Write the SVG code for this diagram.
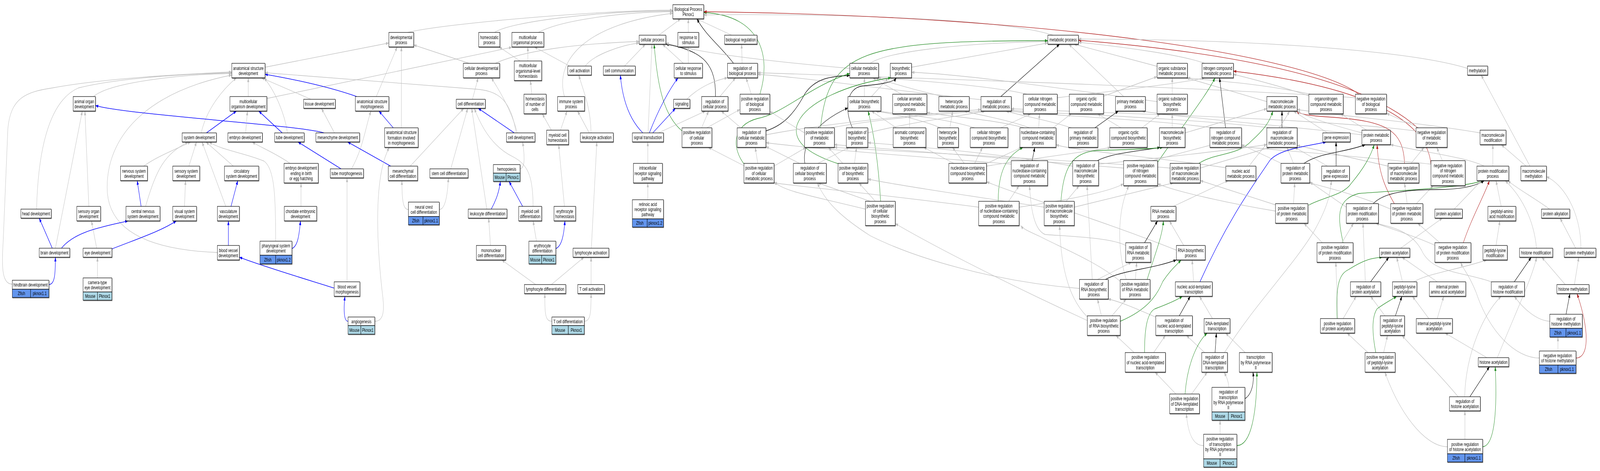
<svg xmlns="http://www.w3.org/2000/svg" width="6123" height="1205" viewBox="0 0 6123 1205" preserveAspectRatio="none" style="width:100vw;height:100vh;display:block">
<style>
.n rect{fill:#fff;stroke:#000;stroke-width:1.2}
.n .z{fill:#6495ed}
.n .m{fill:#add8e6}
.n{filter:url(#ds)}
text{font-family:"Liberation Sans",Arial,sans-serif;font-size:13px;text-anchor:middle;dominant-baseline:central;fill:#000}
.e path{fill:none;stroke-width:1.3}
.e .g{stroke:#c0c0c0;marker-end:url(#ag)}
.e .b{stroke:#0000ff;stroke-width:1.5;marker-end:url(#ab)}
.e .k{stroke:#000;marker-end:url(#ak)}
.e .p{stroke:#228b22;marker-end:url(#ap)}
.e .r{stroke:#b22222;marker-end:url(#ar)}
</style>
<defs>
<filter id="ds" x="-5%" y="-5%" width="115%" height="130%"><feDropShadow dx="1.2" dy="1.5" stdDeviation="0.3" flood-color="#000" flood-opacity="0.55"/></filter>
<marker id="ag" markerWidth="11" markerHeight="8" viewBox="0 0 11 8" refX="11" refY="4" orient="auto" markerUnits="userSpaceOnUse"><path d="M0,0 L11,4 L0,8 z" fill="#c0c0c0"/></marker>
<marker id="ab" markerWidth="11" markerHeight="8" viewBox="0 0 11 8" refX="11" refY="4" orient="auto" markerUnits="userSpaceOnUse"><path d="M0,0 L11,4 L0,8 z" fill="#0000ff"/></marker>
<marker id="ak" markerWidth="11" markerHeight="8" viewBox="0 0 11 8" refX="11" refY="4" orient="auto" markerUnits="userSpaceOnUse"><path d="M0,0 L11,4 L0,8 z" fill="#000"/></marker>
<marker id="ap" markerWidth="11" markerHeight="8" viewBox="0 0 11 8" refX="11" refY="4" orient="auto" markerUnits="userSpaceOnUse"><path d="M0,0 L11,4 L0,8 z" fill="#228b22"/></marker>
<marker id="ar" markerWidth="11" markerHeight="8" viewBox="0 0 11 8" refX="11" refY="4" orient="auto" markerUnits="userSpaceOnUse"><path d="M0,0 L11,4 L0,8 z" fill="#b22222"/></marker>
</defs>
<rect x="0" y="0" width="6123" height="1205" fill="#fff"/>
<g id="edges" class="e">
<path class="g" d="M1560 83 C1700 60 2300 26 2575 26"/>
<path class="g" d="M1893 83 C1950 55 2300 28 2575 28"/>
<path class="g" d="M2060 83 C2150 50 2400 30 2575 30"/>
<path class="g" d="M2160 247 C2120 150 2250 60 2575 34"/>
<path class="g" d="M2521 90 L2605 48"/>
<path class="g" d="M2634 83 L2634 48"/>
<path class="g" d="M2800 90 L2665 48"/>
<path class="k" d="M2807 162 C2760 120 2700 90 2667 48"/>
<path class="p" d="M2908 241 C2950 150 2920 40 2693 32"/>
<path class="g" d="M4030 90 C3800 40 3000 35 2693 38"/>
<path class="r" d="M5200 241 C5000 140 4000 40 2693 30"/>
<path class="g" d="M1014 172 L1488 110"/>
<path class="g" d="M1440 247 L1520 120"/>
<path class="g" d="M1536 327 L1536 120"/>
<path class="g" d="M1795 162 L1583 115"/>
<path class="g" d="M1990 156 L1910 120"/>
<path class="g" d="M1021 252 L1959 121"/>
<path class="g" d="M2020 156 L2020 120"/>
<path class="g" d="M2180 169 L2045 120"/>
<path class="g" d="M1895 162 C2000 130 2200 112 2446 106"/>
<path class="g" d="M2240 169 C2270 140 2380 115 2446 110"/>
<path class="g" d="M2390 169 L2470 113"/>
<path class="g" d="M2480 340 L2495 113"/>
<path class="g" d="M2615 162 L2535 113"/>
<path class="k" d="M2738 247 C2740 170 2700 130 2548 113"/>
<path class="p" d="M2610 335 C2530 290 2515 200 2503 113"/>
<path class="g" d="M3252 175 C3000 160 2700 140 2548 110"/>
<path class="g" d="M2634 162 L2634 120"/>
<path class="g" d="M2840 162 L2838 113"/>
<path class="g" d="M3330 162 C3400 130 3700 110 4010 106"/>
<path class="g" d="M3488 172 L4010 110"/>
<path class="p" d="M3140 327 C3170 130 3300 104 4010 104"/>
<path class="k" d="M3830 247 L4055 113"/>
<path class="g" d="M4430 170 L4110 113"/>
<path class="g" d="M4300 247 L4090 113"/>
<path class="g" d="M4610 162 C4520 140 4300 120 4127 108"/>
<path class="r" d="M5430 330 C5300 250 5000 150 4127 103"/>
<path class="g" d="M5616 175 C5400 130 4800 100 4127 100"/>
<path class="g" d="M47 727 C10 727 5 690 12 620 L30 330 C40 250 100 235 200 225 C400 200 700 190 887 184"/>
<path class="g" d="M140 535 C145 400 180 260 300 225 C450 200 700 190 887 186"/>
<path class="g" d="M358 247 C420 210 700 190 887 188"/>
<path class="g" d="M832 646 C600 640 410 600 410 480 C410 330 600 230 887 192"/>
<path class="g" d="M770 340 C790 280 850 230 905 199"/>
<path class="g" d="M950 247 L950 199"/>
<path class="g" d="M1190 254 L1000 199"/>
<path class="g" d="M1100 340 C1090 290 1050 230 1010 199"/>
<path class="b" d="M1365 247 C1250 220 1100 200 1014 190"/>
<path class="g" d="M1975 340 C1955 250 1900 232 1820 228 C1500 210 1200 195 1014 186"/>
<path class="g" d="M1808 254 L1830 199"/>
<path class="g" d="M1980 340 C1960 290 1920 240 1880 199"/>
<path class="g" d="M2035 241 L2030 206"/>
<path class="g" d="M2262 340 C2260 270 2230 230 2215 192"/>
<path class="b" d="M2460 340 C2400 300 2380 240 2374 192"/>
<path class="b" d="M2485 340 C2520 280 2560 230 2595 199"/>
<path class="g" d="M2755 247 L2815 199"/>
<path class="g" d="M2875 241 L2855 199"/>
<path class="g" d="M2628 254 C2680 220 2740 205 2784 199"/>
<path class="g" d="M3754 255 C3400 230 3100 200 2899 190"/>
<path class="g" d="M5187 250 C4500 220 3500 200 2899 186"/>
<path class="g" d="M3308 247 L3308 199"/>
<path class="g" d="M3450 241 L3340 199"/>
<path class="g" d="M3610 247 C3500 230 3400 210 3350 199"/>
<path class="g" d="M3930 241 C3800 220 3500 205 3360 199"/>
<path class="k" d="M2931 335 C3000 320 3040 290 3080 240 C3120 200 3180 195 3252 193"/>
<path class="p" d="M2850 422 C2800 380 2800 320 2900 303 C3000 290 3100 220 3252 188"/>
<path class="g" d="M3335 247 L3400 199"/>
<path class="g" d="M4428 260 C4100 230 3700 190 3488 185"/>
<path class="p" d="M3213 420 C3120 400 3030 370 3050 320 C3080 260 3250 215 3410 199"/>
<path class="k" d="M3262 327 C3230 280 3240 225 3300 220 C3380 215 3420 210 3430 199"/>
<path class="g" d="M4223 246 L4428 196"/>
<path class="g" d="M4486 241 L4486 199"/>
<path class="g" d="M4848 260 L4540 199"/>
<path class="g" d="M5015 241 C4800 210 4600 205 4544 199"/>
<path class="g" d="M4046 250 C4300 230 4550 210 4610 199"/>
<path class="p" d="M4430 415 C4550 300 4620 240 4650 199"/>
<path class="k" d="M4690 327 L4667 199"/>
<path class="g" d="M5009 245 C4900 220 4780 200 4720 190"/>
<path class="r" d="M5476 420 C5460 300 5200 220 4720 182"/>
<path class="g" d="M5855 425 L5668 192"/>
<path class="g" d="M340 528 L325 284"/>
<path class="g" d="M212 635 L315 284"/>
<path class="b" d="M1240 340 C1150 320 500 295 365 270"/>
<path class="b" d="M790 340 L905 284"/>
<path class="g" d="M940 340 L947 284"/>
<path class="b" d="M1080 340 L990 284"/>
<path class="g" d="M1280 340 L1230 277"/>
<path class="g" d="M1345 432 C1390 380 1400 320 1420 284"/>
<path class="b" d="M1505 327 L1450 284"/>
<path class="g" d="M1570 425 L1775 277"/>
<path class="g" d="M1725 432 L1790 277"/>
<path class="g" d="M1863 535 L1805 277"/>
<path class="g" d="M2040 528 C2040 450 2020 420 1960 400 C1900 380 1850 340 1815 277"/>
<path class="b" d="M1968 340 L1830 277"/>
<path class="g" d="M2110 333 L2075 291"/>
<path class="g" d="M2145 333 L2170 284"/>
<path class="g" d="M2255 340 L2210 284"/>
<path class="b" d="M2498 340 L2585 277"/>
<path class="g" d="M2520 340 L2700 284"/>
<path class="g" d="M2685 327 L2712 284"/>
<path class="g" d="M2835 327 L2760 284"/>
<path class="g" d="M2705 327 L2832 280"/>
<path class="g" d="M3079 340 C3030 320 2980 300 2946 285"/>
<path class="g" d="M3430 327 L3335 284"/>
<path class="g" d="M3600 327 C3500 300 3400 290 3350 284"/>
<path class="g" d="M3730 327 C3600 300 3420 290 3355 284"/>
<path class="k" d="M3080 418 C3070 380 3100 320 3245 276"/>
<path class="p" d="M3370 515 C3360 400 3340 330 3322 284"/>
<path class="g" d="M3481 327 L3481 291"/>
<path class="g" d="M3920 327 C3800 305 3650 300 3547 288"/>
<path class="g" d="M3635 327 L3646 284"/>
<path class="g" d="M3940 327 C3850 305 3750 295 3690 284"/>
<path class="g" d="M2931 345 C3200 310 3600 290 3754 280"/>
<path class="g" d="M3180 327 C3400 300 3650 290 3765 284"/>
<path class="g" d="M3321 340 C3500 310 3700 295 3770 284"/>
<path class="g" d="M4100 327 C4000 305 3900 295 3850 284"/>
<path class="g" d="M4640 327 C4400 305 4000 295 3860 284"/>
<path class="g" d="M4860 327 C4500 300 4000 290 3866 282"/>
<path class="g" d="M5419 335 C5000 300 4200 290 3870 278"/>
<path class="g" d="M3830 327 L3945 291"/>
<path class="g" d="M3975 327 L3978 291"/>
<path class="g" d="M4290 327 L4200 291"/>
<path class="g" d="M4030 327 L4100 291"/>
<path class="k" d="M4190 327 L4280 284"/>
<path class="g" d="M5212 345 C4900 320 4500 300 4370 284"/>
<path class="g" d="M4370 327 L4440 291"/>
<path class="g" d="M4486 327 L4486 291"/>
<path class="g" d="M4535 340 L4848 278"/>
<path class="k" d="M4906 327 L4906 284"/>
<path class="p" d="M4588 418 C4650 390 4735 400 4790 360 C4840 330 4860 310 4871 284"/>
<path class="r" d="M5375 418 C5370 330 5300 310 5100 300 C5000 296 4975 292 4962 284"/>
<path class="g" d="M5080 340 L4950 284"/>
<path class="g" d="M4780 425 C4830 380 4900 330 4935 284"/>
<path class="g" d="M5212 340 C5100 320 5000 300 4964 284"/>
<path class="g" d="M5664 340 C5400 310 5100 295 4964 280"/>
<path class="g" d="M5230 333 L5130 291"/>
<path class="g" d="M5430 327 L5306 290"/>
<path class="g" d="M550 425 C600 400 680 380 730 363"/>
<path class="g" d="M557 528 C600 430 630 395 720 363"/>
<path class="g" d="M723 425 L752 363"/>
<path class="g" d="M864 528 L773 363"/>
<path class="g" d="M893 425 L788 363"/>
<path class="g" d="M1055 617 C1055 500 1050 430 1010 412 C930 390 850 385 800 363"/>
<path class="g" d="M1110 418 C1050 390 990 375 965 363"/>
<path class="b" d="M1305 432 L1140 363"/>
<path class="b" d="M1495 425 L1330 363"/>
<path class="g" d="M1434 822 C1465 822 1472 800 1465 760 C1440 620 1430 450 1490 377"/>
<path class="g" d="M1990 432 C2010 430 2008 400 2000 363"/>
<path class="g" d="M2160 528 L2138 370"/>
<path class="g" d="M2263 635 L2284 363"/>
<path class="g" d="M2479 418 L2479 363"/>
<path class="g" d="M2850 425 L2710 377"/>
<path class="g" d="M2900 418 L2890 377"/>
<path class="g" d="M3060 418 L2931 375"/>
<path class="g" d="M3870 420 C3500 400 3100 380 2931 365"/>
<path class="g" d="M2962 425 L3085 377"/>
<path class="g" d="M3225 418 L3170 377"/>
<path class="g" d="M4300 430 C3800 400 3400 380 3193 370"/>
<path class="g" d="M4478 430 C4000 405 3500 390 3193 377"/>
<path class="g" d="M3130 418 L3250 377"/>
<path class="g" d="M3270 418 L3278 377"/>
<path class="g" d="M4105 425 C3800 390 3500 375 3321 365"/>
<path class="g" d="M3650 418 L3535 377"/>
<path class="g" d="M3690 418 L3645 377"/>
<path class="g" d="M3730 418 L3760 377"/>
<path class="g" d="M3770 420 L3910 377"/>
<path class="k" d="M3950 411 L3960 377"/>
<path class="p" d="M3820 515 C3820 440 3850 400 3915 377"/>
<path class="g" d="M4700 430 C4400 400 4100 385 4041 370"/>
<path class="g" d="M3775 425 C4000 400 4200 385 4250 377"/>
<path class="k" d="M4200 411 C4260 390 4380 385 4440 377"/>
<path class="p" d="M4060 515 C4070 430 4100 390 4200 385 C4350 382 4420 380 4450 377"/>
<path class="g" d="M4410 411 L4640 370"/>
<path class="g" d="M4910 420 L4751 370"/>
<path class="g" d="M5476 420 C5200 400 4900 385 4751 375"/>
<path class="g" d="M4204 420 C4500 400 4750 380 4848 370"/>
<path class="g" d="M4593 430 L4860 377"/>
<path class="g" d="M4950 418 L4925 377"/>
<path class="g" d="M5080 425 L4955 377"/>
<path class="g" d="M5312 425 L4964 372"/>
<path class="k" d="M5113 425 L5113 363"/>
<path class="b" d="M4592 721 C4700 560 4800 470 4860 410 C4900 380 5000 375 5075 363"/>
<path class="k" d="M4990 418 C5050 390 5150 390 5225 370"/>
<path class="p" d="M5008 525 C5060 505 5140 500 5170 470 C5220 430 5245 400 5259 370"/>
<path class="r" d="M5336 521 C5300 480 5275 440 5270 370"/>
<path class="g" d="M5680 425 C5600 400 5450 390 5321 370"/>
<path class="g" d="M5400 418 L5450 377"/>
<path class="g" d="M5520 411 L5498 377"/>
<path class="g" d="M5713 425 L5713 370"/>
<path class="g" d="M5840 425 L5745 370"/>
<path class="b" d="M540 528 L525 462"/>
<path class="g" d="M706 528 L710 462"/>
<path class="b" d="M884 528 L910 462"/>
<path class="g" d="M1152 528 L1152 468"/>
<path class="g" d="M1328 721 L1328 455"/>
<path class="g" d="M1563 536 C1545 536 1538 520 1538 462"/>
<path class="g" d="M1681 536 C1700 536 1712 510 1716 455"/>
<path class="b" d="M1880 535 C1900 510 1910 490 1915 464"/>
<path class="b" d="M2000 528 L1948 464"/>
<path class="g" d="M2479 511 L2479 468"/>
<path class="g" d="M3312 535 C3100 500 3000 490 2962 465"/>
<path class="g" d="M3745 530 C3400 500 3100 480 2962 468"/>
<path class="g" d="M3330 515 L3130 468"/>
<path class="g" d="M4131 738 C3800 720 3500 660 3330 603 C3230 560 3160 520 3128 468"/>
<path class="g" d="M3350 515 L3287 468"/>
<path class="g" d="M3996 530 C3700 500 3400 470 3321 458"/>
<path class="g" d="M4502 640 C4200 560 3900 500 3775 465"/>
<path class="g" d="M3860 515 L3900 475"/>
<path class="g" d="M4308 628 C4250 608 4100 605 4000 600 C3960 590 3945 540 3940 475"/>
<path class="g" d="M4080 515 L4130 475"/>
<path class="g" d="M4180 715 L4160 475"/>
<path class="g" d="M3900 530 C4100 510 4250 490 4300 470"/>
<path class="g" d="M4881 540 C4700 520 4500 490 4430 470"/>
<path class="g" d="M4111 530 C4300 500 4420 480 4490 468"/>
<path class="g" d="M4885 525 L4593 462"/>
<path class="g" d="M4310 715 C4280 650 4270 550 4320 475"/>
<path class="g" d="M4490 528 L4700 462"/>
<path class="g" d="M4950 521 L4955 468"/>
<path class="g" d="M5152 530 L5012 465"/>
<path class="g" d="M5322 535 C5200 500 5080 480 5012 468"/>
<path class="g" d="M4686 902 C4800 780 4950 680 5030 590 C5080 530 5090 500 5095 462"/>
<path class="g" d="M5385 521 L5375 468"/>
<path class="g" d="M5420 521 L5485 475"/>
<path class="p" d="M5140 621 C5120 560 5110 510 5200 495 C5400 485 5600 480 5676 462"/>
<path class="r" d="M5600 621 C5630 560 5680 500 5700 462"/>
<path class="k" d="M5255 521 C5300 490 5400 485 5500 485 C5600 485 5650 475 5680 462"/>
<path class="g" d="M5745 528 L5725 462"/>
<path class="g" d="M5880 635 C5870 560 5820 500 5760 462"/>
<path class="g" d="M5930 535 C5880 510 5800 480 5770 462"/>
<path class="g" d="M5565 535 L5670 462"/>
<path class="g" d="M6050 635 C6050 540 5980 470 5918 452"/>
<path class="b" d="M200 635 L150 558"/>
<path class="g" d="M370 635 L350 565"/>
<path class="b" d="M235 635 C290 590 400 580 490 565"/>
<path class="b" d="M428 637 C530 610 620 590 675 565"/>
<path class="b" d="M874 628 L874 565"/>
<path class="b" d="M1117 636 C1140 630 1145 600 1150 565"/>
<path class="g" d="M1877 628 L1870 558"/>
<path class="g" d="M2053 617 L2040 565"/>
<path class="b" d="M2127 636 C2150 630 2158 600 2162 565"/>
<path class="g" d="M4161 820 C3900 740 3600 640 3426 572"/>
<path class="g" d="M4287 720 C4200 670 4050 630 3980 605 C3930 590 3915 585 3906 577"/>
<path class="g" d="M4160 810 C4100 770 4060 700 4055 577"/>
<path class="k" d="M4380 621 L4430 565"/>
<path class="p" d="M4390 715 C4420 650 4450 600 4452 565"/>
<path class="g" d="M4530 628 L4475 565"/>
<path class="g" d="M5060 621 L4990 571"/>
<path class="g" d="M5135 621 L5180 571"/>
<path class="g" d="M5225 721 L5216 571"/>
<path class="g" d="M5500 630 C5400 600 5300 580 5265 571"/>
<path class="g" d="M5707 721 C5600 695 5480 700 5440 640 C5400 590 5320 580 5266 571"/>
<path class="g" d="M5510 621 L5425 571"/>
<path class="g" d="M5360 635 L5520 558"/>
<path class="g" d="M5725 628 L5740 565"/>
<path class="g" d="M6030 635 L5970 558"/>
<path class="b" d="M187 728 C210 728 212 700 212 658"/>
<path class="g" d="M373 711 L373 658"/>
<path class="b" d="M1279 737 C1150 710 1000 680 916 658"/>
<path class="g" d="M2050 728 L1920 665"/>
<path class="g" d="M2110 728 L2235 658"/>
<path class="g" d="M2262 728 L2262 658"/>
<path class="g" d="M4200 715 L4330 671"/>
<path class="g" d="M4345 715 L4350 671"/>
<path class="k" d="M4230 715 C4300 690 4400 690 4502 665"/>
<path class="p" d="M4287 822 C4400 790 4430 750 4450 720 C4480 690 4500 680 4520 665"/>
<path class="g" d="M4568 721 L4562 665"/>
<path class="g" d="M5120 815 L5112 671"/>
<path class="p" d="M5117 815 C5110 720 5130 700 5160 690 C5230 660 5260 660 5290 658"/>
<path class="k" d="M5245 721 L5315 658"/>
<path class="g" d="M5367 721 L5345 658"/>
<path class="g" d="M5500 721 L5365 658"/>
<path class="g" d="M5891 916 C5800 916 5700 850 5650 750 C5620 700 5600 690 5590 671"/>
<path class="g" d="M5410 721 C5460 700 5580 690 5690 665"/>
<path class="k" d="M5795 721 L5860 658"/>
<path class="g" d="M5730 915 C5800 800 5870 700 5880 658"/>
<path class="g" d="M5990 728 L5900 658"/>
<path class="g" d="M6025 728 L6042 658"/>
<path class="g" d="M4215 808 L4200 765"/>
<path class="g" d="M4425 812 C4350 790 4280 770 4240 765"/>
<path class="g" d="M4255 808 L4310 765"/>
<path class="k" d="M4513 808 L4555 758"/>
<path class="p" d="M4380 902 C4380 840 4390 800 4420 790 C4480 775 4510 765 4525 758"/>
<path class="g" d="M4640 815 L4590 758"/>
<path class="g" d="M5140 815 L5190 758"/>
<path class="g" d="M5300 808 L5245 758"/>
<path class="k" d="M5340 808 L5365 758"/>
<path class="p" d="M5265 902 C5250 850 5250 810 5270 790 C5300 775 5330 765 5345 758"/>
<path class="g" d="M5468 815 L5405 758"/>
<path class="g" d="M5500 815 L5525 758"/>
<path class="g" d="M5605 1015 C5610 900 5680 800 5745 758"/>
<path class="g" d="M5931 822 C5880 820 5830 790 5795 758"/>
<path class="k" d="M5993 804 L6008 751"/>
<path class="r" d="M6031 916 C6080 916 6085 850 6035 751"/>
<path class="g" d="M2112 822 C2085 822 2085 800 2085 751"/>
<path class="g" d="M2236 822 C2260 822 2262 800 2262 751"/>
<path class="b" d="M1332 822 C1315 822 1315 790 1320 758"/>
<path class="g" d="M4340 902 L4270 858"/>
<path class="g" d="M4415 902 L4460 858"/>
<path class="g" d="M4610 902 L4540 858"/>
<path class="p" d="M4535 1008 C4545 920 4590 870 4620 852"/>
<path class="k" d="M4650 902 L4655 852"/>
<path class="g" d="M4765 902 L4690 852"/>
<path class="g" d="M5235 902 L5155 852"/>
<path class="g" d="M5295 902 L5310 858"/>
<path class="g" d="M5580 1015 C5500 950 5420 900 5365 858"/>
<path class="g" d="M5690 915 L5530 852"/>
<path class="g" d="M5962 898 L5962 862"/>
<path class="g" d="M4500 1008 L4420 952"/>
<path class="g" d="M4560 1008 L4620 952"/>
<path class="g" d="M4703 991 C4700 970 4690 960 4685 952"/>
<path class="k" d="M4764 1020 C4790 1010 4800 980 4795 952"/>
<path class="p" d="M4733 1140 C4790 1140 4810 1050 4810 952"/>
<path class="g" d="M5539 1143 C5450 1143 5350 1050 5300 952"/>
<path class="k" d="M5625 1015 L5700 938"/>
<path class="p" d="M5674 1143 C5720 1140 5730 1050 5722 938"/>
<path class="g" d="M4606 1140 C4560 1140 4545 1100 4540 1058"/>
<path class="g" d="M4669 1111 L4669 1075"/>
<path class="g" d="M5606 1124 L5606 1051"/>
</g>
<g id="nodes">
<g id="n-root" class="n"><rect x="2575" y="12" width="118" height="36"/><text x="2634" y="23.35"><tspan x="2634">Biological Process</tspan><tspan x="2634" dy="13.3">Pknox1</tspan></text></g>
<g id="n-devproc" class="n"><rect x="1488" y="83" width="95" height="37"/><text x="1535.5" y="94.85"><tspan x="1535.5">developmental</tspan><tspan x="1535.5" dy="13.3">process</tspan></text></g>
<g id="n-homeo" class="n"><rect x="1832" y="83" width="81" height="37"/><text x="1872.5" y="94.85"><tspan x="1872.5">homeostatic</tspan><tspan x="1872.5" dy="13.3">process</tspan></text></g>
<g id="n-mcop" class="n"><rect x="1959" y="83" width="122" height="37"/><text x="2020" y="94.85"><tspan x="2020">multicellular</tspan><tspan x="2020" dy="13.3">organismal process</tspan></text></g>
<g id="n-cellproc" class="n"><rect x="2446" y="90" width="102" height="23"/><text x="2497" y="101.5">cellular process</text></g>
<g id="n-resp" class="n"><rect x="2594" y="83" width="80" height="37"/><text x="2634" y="94.85"><tspan x="2634">response to</tspan><tspan x="2634" dy="13.3">stimulus</tspan></text></g>
<g id="n-bioreg" class="n"><rect x="2773" y="90" width="124" height="23"/><text x="2835" y="101.5">biological regulation</text></g>
<g id="n-metab" class="n"><rect x="4010" y="90" width="117" height="23"/><text x="4068.5" y="101.5">metabolic process</text></g>
<g id="n-asd" class="n"><rect x="887" y="162" width="127" height="37"/><text x="950.5" y="173.85"><tspan x="950.5">anatomical structure</tspan><tspan x="950.5" dy="13.3">development</tspan></text></g>
<g id="n-celldevproc" class="n"><rect x="1773" y="162" width="139" height="37"/><text x="1842.5" y="173.85"><tspan x="1842.5">cellular developmental</tspan><tspan x="1842.5" dy="13.3">process</tspan></text></g>
<g id="n-mcolh" class="n"><rect x="1968" y="156" width="105" height="50"/><text x="2020.5" y="167.7"><tspan x="2020.5">multicellular</tspan><tspan x="2020.5" dy="13.3">organismal-level</tspan><tspan x="2020.5" dy="13.3">homeostasis</tspan></text></g>
<g id="n-cellact" class="n"><rect x="2173" y="169" width="90" height="23"/><text x="2218" y="180.5">cell activation</text></g>
<g id="n-cellcomm" class="n"><rect x="2309" y="169" width="122" height="23"/><text x="2370" y="180.5">cell communication</text></g>
<g id="n-cresp" class="n"><rect x="2580" y="162" width="108" height="37"/><text x="2634" y="173.85"><tspan x="2634">cellular response</tspan><tspan x="2634" dy="13.3">to stimulus</tspan></text></g>
<g id="n-regbp" class="n"><rect x="2784" y="162" width="115" height="37"/><text x="2841.5" y="173.85"><tspan x="2841.5">regulation of</tspan><tspan x="2841.5" dy="13.3">biological process</tspan></text></g>
<g id="n-cmp" class="n"><rect x="3252" y="162" width="110" height="37"/><text x="3307" y="173.85"><tspan x="3307">cellular metabolic</tspan><tspan x="3307" dy="13.3">process</tspan></text></g>
<g id="n-biosyn" class="n"><rect x="3407" y="162" width="81" height="37"/><text x="3447.5" y="173.85"><tspan x="3447.5">biosynthetic</tspan><tspan x="3447.5" dy="13.3">process</tspan></text></g>
<g id="n-osmp" class="n"><rect x="4428" y="162" width="116" height="37"/><text x="4486" y="173.85"><tspan x="4486">organic substance</tspan><tspan x="4486" dy="13.3">metabolic process</tspan></text></g>
<g id="n-ncmp" class="n"><rect x="4600" y="162" width="120" height="37"/><text x="4660" y="173.85"><tspan x="4660">nitrogen compound</tspan><tspan x="4660" dy="13.3">metabolic process</tspan></text></g>
<g id="n-methyl" class="n"><rect x="5616" y="169" width="77" height="23"/><text x="5654.5" y="180.5">methylation</text></g>
<g id="n-aod" class="n"><rect x="280" y="247" width="85" height="37"/><text x="322.5" y="258.85"><tspan x="322.5">animal organ</tspan><tspan x="322.5" dy="13.3">development</tspan></text></g>
<g id="n-mod" class="n"><rect x="880" y="247" width="141" height="37"/><text x="950.5" y="258.85"><tspan x="950.5">multicellular</tspan><tspan x="950.5" dy="13.3">organism development</tspan></text></g>
<g id="n-tissuedev" class="n"><rect x="1162" y="254" width="121" height="23"/><text x="1222.5" y="265.5">tissue development</text></g>
<g id="n-asm" class="n"><rect x="1360" y="247" width="128" height="37"/><text x="1424" y="258.85"><tspan x="1424">anatomical structure</tspan><tspan x="1424" dy="13.3">morphogenesis</tspan></text></g>
<g id="n-celldiff" class="n"><rect x="1746" y="254" width="111" height="23"/><text x="1801.5" y="265.5">cell differentiation</text></g>
<g id="n-honc" class="n"><rect x="2005" y="241" width="85" height="50"/><text x="2047.5" y="252.7"><tspan x="2047.5">homeostasis</tspan><tspan x="2047.5" dy="13.3">of number of</tspan><tspan x="2047.5" dy="13.3">cells</tspan></text></g>
<g id="n-imm" class="n"><rect x="2134" y="247" width="103" height="37"/><text x="2185.5" y="258.85"><tspan x="2185.5">immune system</tspan><tspan x="2185.5" dy="13.3">process</tspan></text></g>
<g id="n-signaling" class="n"><rect x="2578" y="254" width="62" height="23"/><text x="2609" y="265.5">signaling</text></g>
<g id="n-regcp" class="n"><rect x="2685" y="247" width="101" height="37"/><text x="2735.5" y="258.85"><tspan x="2735.5">regulation of</tspan><tspan x="2735.5" dy="13.3">cellular process</tspan></text></g>
<g id="n-posregbp" class="n"><rect x="2832" y="241" width="114" height="50"/><text x="2889" y="252.7"><tspan x="2889">positive regulation</tspan><tspan x="2889" dy="13.3">of biological</tspan><tspan x="2889" dy="13.3">process</tspan></text></g>
<g id="n-cbp" class="n"><rect x="3245" y="247" width="126" height="37"/><text x="3308" y="258.85"><tspan x="3308">cellular biosynthetic</tspan><tspan x="3308" dy="13.3">process</tspan></text></g>
<g id="n-camp" class="n"><rect x="3416" y="241" width="131" height="50"/><text x="3481.5" y="252.7"><tspan x="3481.5">cellular aromatic</tspan><tspan x="3481.5" dy="13.3">compound metabolic</tspan><tspan x="3481.5" dy="13.3">process</tspan></text></g>
<g id="n-hmp" class="n"><rect x="3593" y="247" width="116" height="37"/><text x="3651" y="258.85"><tspan x="3651">heterocycle</tspan><tspan x="3651" dy="13.3">metabolic process</tspan></text></g>
<g id="n-regmp" class="n"><rect x="3754" y="247" width="116" height="37"/><text x="3812" y="258.85"><tspan x="3812">regulation of</tspan><tspan x="3812" dy="13.3">metabolic process</tspan></text></g>
<g id="n-cncmp" class="n"><rect x="3916" y="241" width="130" height="50"/><text x="3981" y="252.7"><tspan x="3981">cellular nitrogen</tspan><tspan x="3981" dy="13.3">compound metabolic</tspan><tspan x="3981" dy="13.3">process</tspan></text></g>
<g id="n-occmp" class="n"><rect x="4092" y="241" width="131" height="50"/><text x="4157.5" y="252.7"><tspan x="4157.5">organic cyclic</tspan><tspan x="4157.5" dy="13.3">compound metabolic</tspan><tspan x="4157.5" dy="13.3">process</tspan></text></g>
<g id="n-pmp" class="n"><rect x="4269" y="247" width="114" height="37"/><text x="4326" y="258.85"><tspan x="4326">primary metabolic</tspan><tspan x="4326" dy="13.3">process</tspan></text></g>
<g id="n-osbp" class="n"><rect x="4428" y="241" width="116" height="50"/><text x="4486" y="252.7"><tspan x="4486">organic substance</tspan><tspan x="4486" dy="13.3">biosynthetic</tspan><tspan x="4486" dy="13.3">process</tspan></text></g>
<g id="n-mmp" class="n"><rect x="4848" y="247" width="116" height="37"/><text x="4906" y="258.85"><tspan x="4906">macromolecule</tspan><tspan x="4906" dy="13.3">metabolic process</tspan></text></g>
<g id="n-oncmp" class="n"><rect x="5009" y="241" width="131" height="50"/><text x="5074.5" y="252.7"><tspan x="5074.5">organonitrogen</tspan><tspan x="5074.5" dy="13.3">compound metabolic</tspan><tspan x="5074.5" dy="13.3">process</tspan></text></g>
<g id="n-negregbp" class="n"><rect x="5187" y="241" width="119" height="50"/><text x="5246.5" y="252.7"><tspan x="5246.5">negative regulation</tspan><tspan x="5246.5" dy="13.3">of biological</tspan><tspan x="5246.5" dy="13.3">process</tspan></text></g>
<g id="n-sysdev" class="n"><rect x="697" y="340" width="131" height="23"/><text x="762.5" y="351.5">system development</text></g>
<g id="n-embdev" class="n"><rect x="872" y="340" width="132" height="23"/><text x="938" y="351.5">embryo development</text></g>
<g id="n-tubedev" class="n"><rect x="1051" y="340" width="113" height="23"/><text x="1107.5" y="351.5">tube development</text></g>
<g id="n-mesdev" class="n"><rect x="1209" y="340" width="167" height="23"/><text x="1292.5" y="351.5">mesenchyme development</text></g>
<g id="n-asfm" class="n"><rect x="1472" y="327" width="128" height="50"/><text x="1536" y="338.7"><tspan x="1536">anatomical structure</tspan><tspan x="1536" dy="13.3">formation involved</tspan><tspan x="1536" dy="13.3">in morphogenesis</tspan></text></g>
<g id="n-celldev" class="n"><rect x="1938" y="340" width="109" height="23"/><text x="1992.5" y="351.5">cell development</text></g>
<g id="n-myehom" class="n"><rect x="2092" y="333" width="84" height="37"/><text x="2134" y="344.85"><tspan x="2134">myeloid cell</tspan><tspan x="2134" dy="13.3">homeostasis</tspan></text></g>
<g id="n-leukact" class="n"><rect x="2221" y="340" width="126" height="23"/><text x="2284" y="351.5">leukocyte activation</text></g>
<g id="n-sigtrans" class="n"><rect x="2420" y="340" width="119" height="23"/><text x="2479.5" y="351.5">signal transduction</text></g>
<g id="n-posregcp" class="n"><rect x="2610" y="327" width="114" height="50"/><text x="2667" y="338.7"><tspan x="2667">positive regulation</tspan><tspan x="2667" dy="13.3">of cellular</tspan><tspan x="2667" dy="13.3">process</tspan></text></g>
<g id="n-regcmp" class="n"><rect x="2821" y="327" width="110" height="50"/><text x="2876" y="338.7"><tspan x="2876">regulation of</tspan><tspan x="2876" dy="13.3">cellular metabolic</tspan><tspan x="2876" dy="13.3">process</tspan></text></g>
<g id="n-posregmp" class="n"><rect x="3079" y="327" width="114" height="50"/><text x="3136" y="338.7"><tspan x="3136">positive regulation</tspan><tspan x="3136" dy="13.3">of metabolic</tspan><tspan x="3136" dy="13.3">process</tspan></text></g>
<g id="n-regbsp" class="n"><rect x="3239" y="327" width="82" height="50"/><text x="3280" y="338.7"><tspan x="3280">regulation of</tspan><tspan x="3280" dy="13.3">biosynthetic</tspan><tspan x="3280" dy="13.3">process</tspan></text></g>
<g id="n-acbp" class="n"><rect x="3418" y="327" width="125" height="50"/><text x="3480.5" y="338.7"><tspan x="3480.5">aromatic compound</tspan><tspan x="3480.5" dy="13.3">biosynthetic</tspan><tspan x="3480.5" dy="13.3">process</tspan></text></g>
<g id="n-hbp" class="n"><rect x="3588" y="327" width="80" height="50"/><text x="3628" y="338.7"><tspan x="3628">heterocycle</tspan><tspan x="3628" dy="13.3">biosynthetic</tspan><tspan x="3628" dy="13.3">process</tspan></text></g>
<g id="n-cncbp" class="n"><rect x="3713" y="327" width="144" height="50"/><text x="3785" y="338.7"><tspan x="3785">cellular nitrogen</tspan><tspan x="3785" dy="13.3">compound biosynthetic</tspan><tspan x="3785" dy="13.3">process</tspan></text></g>
<g id="n-nccmp" class="n"><rect x="3903" y="327" width="138" height="50"/><text x="3972" y="338.7"><tspan x="3972">nucleobase-containing</tspan><tspan x="3972" dy="13.3">compound metabolic</tspan><tspan x="3972" dy="13.3">process</tspan></text></g>
<g id="n-regpmp" class="n"><rect x="4089" y="327" width="112" height="50"/><text x="4145" y="338.7"><tspan x="4145">regulation of</tspan><tspan x="4145" dy="13.3">primary metabolic</tspan><tspan x="4145" dy="13.3">process</tspan></text></g>
<g id="n-occbp" class="n"><rect x="4247" y="327" width="143" height="50"/><text x="4318.5" y="338.7"><tspan x="4318.5">organic cyclic</tspan><tspan x="4318.5" dy="13.3">compound biosynthetic</tspan><tspan x="4318.5" dy="13.3">process</tspan></text></g>
<g id="n-mbp" class="n"><rect x="4437" y="327" width="98" height="50"/><text x="4486" y="338.7"><tspan x="4486">macromolecule</tspan><tspan x="4486" dy="13.3">biosynthetic</tspan><tspan x="4486" dy="13.3">process</tspan></text></g>
<g id="n-regncmp" class="n"><rect x="4630" y="327" width="121" height="50"/><text x="4690.5" y="338.7"><tspan x="4690.5">regulation of</tspan><tspan x="4690.5" dy="13.3">nitrogen compound</tspan><tspan x="4690.5" dy="13.3">metabolic process</tspan></text></g>
<g id="n-regmmp" class="n"><rect x="4848" y="327" width="116" height="50"/><text x="4906" y="338.7"><tspan x="4906">regulation of</tspan><tspan x="4906" dy="13.3">macromolecule</tspan><tspan x="4906" dy="13.3">metabolic process</tspan></text></g>
<g id="n-geneexp" class="n"><rect x="5062" y="340" width="105" height="23"/><text x="5114.5" y="351.5">gene expression</text></g>
<g id="n-protmp" class="n"><rect x="5212" y="333" width="109" height="37"/><text x="5266.5" y="344.85"><tspan x="5266.5">protein metabolic</tspan><tspan x="5266.5" dy="13.3">process</tspan></text></g>
<g id="n-negregmp" class="n"><rect x="5419" y="327" width="119" height="50"/><text x="5478.5" y="338.7"><tspan x="5478.5">negative regulation</tspan><tspan x="5478.5" dy="13.3">of metabolic</tspan><tspan x="5478.5" dy="13.3">process</tspan></text></g>
<g id="n-macromod" class="n"><rect x="5664" y="333" width="99" height="37"/><text x="5713.5" y="344.85"><tspan x="5713.5">macromolecule</tspan><tspan x="5713.5" dy="13.3">modification</tspan></text></g>
<g id="n-nsd" class="n"><rect x="461" y="425" width="103" height="37"/><text x="512.5" y="436.85"><tspan x="512.5">nervous system</tspan><tspan x="512.5" dy="13.3">development</tspan></text></g>
<g id="n-ssd" class="n"><rect x="661" y="425" width="103" height="37"/><text x="712.5" y="436.85"><tspan x="712.5">sensory system</tspan><tspan x="712.5" dy="13.3">development</tspan></text></g>
<g id="n-csd" class="n"><rect x="859" y="425" width="131" height="37"/><text x="924.5" y="436.85"><tspan x="924.5">circulatory</tspan><tspan x="924.5" dy="13.3">system development</tspan></text></g>
<g id="n-edeb" class="n"><rect x="1087" y="418" width="131" height="50"/><text x="1152.5" y="429.7"><tspan x="1152.5">embryo development</tspan><tspan x="1152.5" dy="13.3">ending in birth</tspan><tspan x="1152.5" dy="13.3">or egg hatching</tspan></text></g>
<g id="n-tubemorph" class="n"><rect x="1264" y="432" width="127" height="23"/><text x="1327.5" y="443.5">tube morphogenesis</text></g>
<g id="n-mescd" class="n"><rect x="1486" y="425" width="112" height="37"/><text x="1542" y="436.85"><tspan x="1542">mesenchymal</tspan><tspan x="1542" dy="13.3">cell differentiation</tspan></text></g>
<g id="n-stemcd" class="n"><rect x="1645" y="432" width="146" height="23"/><text x="1718" y="443.5">stem cell differentiation</text></g>
<g id="n-hemo" class="n"><rect x="1888" y="421" width="102" height="22"/><rect class="m" x="1888" y="443" width="49" height="21"/><rect class="m" x="1937" y="443" width="53" height="21"/><text x="1939" y="432">hemopoiesis</text><text x="1912.5" y="453.5">Mouse</text><text x="1963.5" y="453.5">Pknox1</text></g>
<g id="n-intracell" class="n"><rect x="2424" y="418" width="111" height="50"/><text x="2479.5" y="429.7"><tspan x="2479.5">intracellular</tspan><tspan x="2479.5" dy="13.3">receptor signaling</tspan><tspan x="2479.5" dy="13.3">pathway</tspan></text></g>
<g id="n-posregcmp" class="n"><rect x="2847" y="418" width="115" height="50"/><text x="2904.5" y="429.7"><tspan x="2904.5">positive regulation</tspan><tspan x="2904.5" dy="13.3">of cellular</tspan><tspan x="2904.5" dy="13.3">metabolic process</tspan></text></g>
<g id="n-regcbp" class="n"><rect x="3036" y="418" width="126" height="50"/><text x="3099" y="429.7"><tspan x="3099">regulation of</tspan><tspan x="3099" dy="13.3">cellular biosynthetic</tspan><tspan x="3099" dy="13.3">process</tspan></text></g>
<g id="n-posregbsp" class="n"><rect x="3207" y="418" width="114" height="50"/><text x="3264" y="429.7"><tspan x="3264">positive regulation</tspan><tspan x="3264" dy="13.3">of biosynthetic</tspan><tspan x="3264" dy="13.3">process</tspan></text></g>
<g id="n-ncbp" class="n"><rect x="3631" y="418" width="144" height="50"/><text x="3703" y="429.7"><tspan x="3703">nucleobase-containing</tspan><tspan x="3703" dy="13.3">compound biosynthetic</tspan><tspan x="3703" dy="13.3">process</tspan></text></g>
<g id="n-regnccmp" class="n"><rect x="3870" y="411" width="139" height="64"/><text x="3939.5" y="423.05"><tspan x="3939.5">regulation of</tspan><tspan x="3939.5" dy="13.3">nucleobase-containing</tspan><tspan x="3939.5" dy="13.3">compound metabolic</tspan><tspan x="3939.5" dy="13.3">process</tspan></text></g>
<g id="n-regmbp" class="n"><rect x="4105" y="411" width="99" height="64"/><text x="4154.5" y="423.05"><tspan x="4154.5">regulation of</tspan><tspan x="4154.5" dy="13.3">macromolecule</tspan><tspan x="4154.5" dy="13.3">biosynthetic</tspan><tspan x="4154.5" dy="13.3">process</tspan></text></g>
<g id="n-posregncmp" class="n"><rect x="4300" y="411" width="130" height="64"/><text x="4365" y="423.05"><tspan x="4365">positive regulation</tspan><tspan x="4365" dy="13.3">of nitrogen</tspan><tspan x="4365" dy="13.3">compound metabolic</tspan><tspan x="4365" dy="13.3">process</tspan></text></g>
<g id="n-posregmmp" class="n"><rect x="4478" y="418" width="115" height="50"/><text x="4535.5" y="429.7"><tspan x="4535.5">positive regulation</tspan><tspan x="4535.5" dy="13.3">of macromolecule</tspan><tspan x="4535.5" dy="13.3">metabolic process</tspan></text></g>
<g id="n-namp" class="n"><rect x="4691" y="425" width="115" height="37"/><text x="4748.5" y="436.85"><tspan x="4748.5">nucleic acid</tspan><tspan x="4748.5" dy="13.3">metabolic process</tspan></text></g>
<g id="n-regprotmp" class="n"><rect x="4902" y="418" width="110" height="50"/><text x="4957" y="429.7"><tspan x="4957">regulation of</tspan><tspan x="4957" dy="13.3">protein metabolic</tspan><tspan x="4957" dy="13.3">process</tspan></text></g>
<g id="n-reggeneexp" class="n"><rect x="5058" y="425" width="106" height="37"/><text x="5111" y="436.85"><tspan x="5111">regulation of</tspan><tspan x="5111" dy="13.3">gene expression</tspan></text></g>
<g id="n-negregmmp" class="n"><rect x="5312" y="418" width="118" height="50"/><text x="5371" y="429.7"><tspan x="5371">negative regulation</tspan><tspan x="5371" dy="13.3">of macromolecule</tspan><tspan x="5371" dy="13.3">metabolic process</tspan></text></g>
<g id="n-negregncmp" class="n"><rect x="5476" y="411" width="131" height="64"/><text x="5541.5" y="423.05"><tspan x="5541.5">negative regulation</tspan><tspan x="5541.5" dy="13.3">of nitrogen</tspan><tspan x="5541.5" dy="13.3">compound metabolic</tspan><tspan x="5541.5" dy="13.3">process</tspan></text></g>
<g id="n-protmod" class="n"><rect x="5652" y="425" width="122" height="37"/><text x="5713" y="436.85"><tspan x="5713">protein modification</tspan><tspan x="5713" dy="13.3">process</tspan></text></g>
<g id="n-macromethyl" class="n"><rect x="5820" y="425" width="98" height="37"/><text x="5869" y="436.85"><tspan x="5869">macromolecule</tspan><tspan x="5869" dy="13.3">methylation</tspan></text></g>
<g id="n-headdev" class="n"><rect x="80" y="535" width="116" height="23"/><text x="138" y="546.5">head development</text></g>
<g id="n-sod" class="n"><rect x="294" y="528" width="91" height="37"/><text x="339.5" y="539.85"><tspan x="339.5">sensory organ</tspan><tspan x="339.5" dy="13.3">development</tspan></text></g>
<g id="n-cnsd" class="n"><rect x="482" y="528" width="130" height="37"/><text x="547" y="539.85"><tspan x="547">central nervous</tspan><tspan x="547" dy="13.3">system development</tspan></text></g>
<g id="n-vsd" class="n"><rect x="661" y="528" width="91" height="37"/><text x="706.5" y="539.85"><tspan x="706.5">visual system</tspan><tspan x="706.5" dy="13.3">development</tspan></text></g>
<g id="n-vascdev" class="n"><rect x="832" y="528" width="84" height="37"/><text x="874" y="539.85"><tspan x="874">vasculature</tspan><tspan x="874" dy="13.3">development</tspan></text></g>
<g id="n-chordate" class="n"><rect x="1088" y="528" width="124" height="37"/><text x="1150" y="539.85"><tspan x="1150">chordate embryonic</tspan><tspan x="1150" dy="13.3">development</tspan></text></g>
<g id="n-ncd" class="n"><rect x="1563" y="517" width="118" height="37"/><rect class="z" x="1563" y="554" width="56" height="21"/><rect class="z" x="1619" y="554" width="62" height="21"/><text x="1622" y="528.85"><tspan x="1622">neural crest</tspan><tspan x="1622" dy="13.3">cell differentiation</tspan></text><text x="1591" y="564.5">Zfish</text><text x="1650" y="564.5">pknox1.1</text></g>
<g id="n-leukdiff" class="n"><rect x="1792" y="535" width="148" height="23"/><text x="1866" y="546.5">leukocyte differentiation</text></g>
<g id="n-myeloid" class="n"><rect x="1985" y="528" width="88" height="37"/><text x="2029" y="539.85"><tspan x="2029">myeloid cell</tspan><tspan x="2029" dy="13.3">differentiation</tspan></text></g>
<g id="n-eryhom" class="n"><rect x="2120" y="528" width="83" height="37"/><text x="2161.5" y="539.85"><tspan x="2161.5">erythrocyte</tspan><tspan x="2161.5" dy="13.3">homeostasis</tspan></text></g>
<g id="n-rarsp" class="n"><rect x="2420" y="511" width="119" height="49"/><rect class="z" x="2420" y="560" width="57" height="21"/><rect class="z" x="2477" y="560" width="62" height="21"/><text x="2479.5" y="522.2"><tspan x="2479.5">retinoic acid</tspan><tspan x="2479.5" dy="13.3">receptor signaling</tspan><tspan x="2479.5" dy="13.3">pathway</tspan></text><text x="2448.5" y="570.5">Zfish</text><text x="2508" y="570.5">pknox1.2</text></g>
<g id="n-posregcbp" class="n"><rect x="3312" y="515" width="114" height="62"/><text x="3369" y="526.05"><tspan x="3369">positive regulation</tspan><tspan x="3369" dy="13.3">of cellular</tspan><tspan x="3369" dy="13.3">biosynthetic</tspan><tspan x="3369" dy="13.3">process</tspan></text></g>
<g id="n-posregnccmp" class="n"><rect x="3745" y="515" width="155" height="62"/><text x="3822.5" y="526.05"><tspan x="3822.5">positive regulation</tspan><tspan x="3822.5" dy="13.3">of nucleobase-containing</tspan><tspan x="3822.5" dy="13.3">compound metabolic</tspan><tspan x="3822.5" dy="13.3">process</tspan></text></g>
<g id="n-posregmbp" class="n"><rect x="3996" y="515" width="115" height="62"/><text x="4053.5" y="526.05"><tspan x="4053.5">positive regulation</tspan><tspan x="4053.5" dy="13.3">of macromolecule</tspan><tspan x="4053.5" dy="13.3">biosynthetic</tspan><tspan x="4053.5" dy="13.3">process</tspan></text></g>
<g id="n-rnamp" class="n"><rect x="4404" y="528" width="96" height="37"/><text x="4452" y="539.85"><tspan x="4452">RNA metabolic</tspan><tspan x="4452" dy="13.3">process</tspan></text></g>
<g id="n-posregprotmp" class="n"><rect x="4881" y="521" width="124" height="50"/><text x="4943" y="532.7"><tspan x="4943">positive regulation</tspan><tspan x="4943" dy="13.3">of protein metabolic</tspan><tspan x="4943" dy="13.3">process</tspan></text></g>
<g id="n-regpmodp" class="n"><rect x="5152" y="521" width="123" height="50"/><text x="5213.5" y="532.7"><tspan x="5213.5">regulation of</tspan><tspan x="5213.5" dy="13.3">protein modification</tspan><tspan x="5213.5" dy="13.3">process</tspan></text></g>
<g id="n-negregprotmp" class="n"><rect x="5322" y="521" width="123" height="50"/><text x="5383.5" y="532.7"><tspan x="5383.5">negative regulation</tspan><tspan x="5383.5" dy="13.3">of protein metabolic</tspan><tspan x="5383.5" dy="13.3">process</tspan></text></g>
<g id="n-protacyl" class="n"><rect x="5491" y="535" width="105" height="23"/><text x="5543.5" y="546.5">protein acylation</text></g>
<g id="n-pepaamod" class="n"><rect x="5694" y="528" width="107" height="37"/><text x="5747.5" y="539.85"><tspan x="5747.5">peptidyl-amino</tspan><tspan x="5747.5" dy="13.3">acid modification</tspan></text></g>
<g id="n-protalk" class="n"><rect x="5899" y="535" width="108" height="23"/><text x="5953" y="546.5">protein alkylation</text></g>
<g id="n-braindev" class="n"><rect x="150" y="635" width="117" height="23"/><text x="208.5" y="646.5">brain development</text></g>
<g id="n-eyedev" class="n"><rect x="318" y="635" width="110" height="23"/><text x="373" y="646.5">eye development</text></g>
<g id="n-bvd" class="n"><rect x="832" y="628" width="84" height="37"/><text x="874" y="639.85"><tspan x="874">blood vessel</tspan><tspan x="874" dy="13.3">development</tspan></text></g>
<g id="n-pharyn" class="n"><rect x="995" y="617" width="122" height="36"/><rect class="z" x="995" y="653" width="60" height="22"/><rect class="z" x="1055" y="653" width="62" height="22"/><text x="1056" y="628.35"><tspan x="1056">pharyngeal system</tspan><tspan x="1056" dy="13.3">development</tspan></text><text x="1025" y="664">Zfish</text><text x="1086" y="664">pknox1.2</text></g>
<g id="n-mononuc" class="n"><rect x="1823" y="628" width="112" height="37"/><text x="1879" y="639.85"><tspan x="1879">mononuclear</tspan><tspan x="1879" dy="13.3">cell differentiation</tspan></text></g>
<g id="n-erydiff" class="n"><rect x="2024" y="617" width="103" height="36"/><rect class="m" x="2024" y="653" width="49" height="22"/><rect class="m" x="2073" y="653" width="54" height="22"/><text x="2075.5" y="628.35"><tspan x="2075.5">erythrocyte</tspan><tspan x="2075.5" dy="13.3">differentiation</tspan></text><text x="2048.5" y="664">Mouse</text><text x="2100" y="664">Pknox1</text></g>
<g id="n-lymphact" class="n"><rect x="2193" y="635" width="137" height="23"/><text x="2261.5" y="646.5">lymphocyte activation</text></g>
<g id="n-regrnamp" class="n"><rect x="4308" y="621" width="96" height="50"/><text x="4356" y="632.7"><tspan x="4356">regulation of</tspan><tspan x="4356" dy="13.3">RNA metabolic</tspan><tspan x="4356" dy="13.3">process</tspan></text></g>
<g id="n-rnabp" class="n"><rect x="4502" y="628" width="110" height="37"/><text x="4557" y="639.85"><tspan x="4557">RNA biosynthetic</tspan><tspan x="4557" dy="13.3">process</tspan></text></g>
<g id="n-posregpmodp" class="n"><rect x="5040" y="621" width="138" height="50"/><text x="5109" y="632.7"><tspan x="5109">positive regulation</tspan><tspan x="5109" dy="13.3">of protein modification</tspan><tspan x="5109" dy="13.3">process</tspan></text></g>
<g id="n-protacet" class="n"><rect x="5279" y="635" width="116" height="23"/><text x="5337" y="646.5">protein acetylation</text></g>
<g id="n-negregpmodp" class="n"><rect x="5491" y="621" width="138" height="50"/><text x="5560" y="632.7"><tspan x="5560">negative regulation</tspan><tspan x="5560" dy="13.3">of protein modification</tspan><tspan x="5560" dy="13.3">process</tspan></text></g>
<g id="n-peplysmod" class="n"><rect x="5675" y="628" width="93" height="37"/><text x="5721.5" y="639.85"><tspan x="5721.5">peptidyl-lysine</tspan><tspan x="5721.5" dy="13.3">modification</tspan></text></g>
<g id="n-histmod" class="n"><rect x="5815" y="635" width="127" height="23"/><text x="5878.5" y="646.5">histone modification</text></g>
<g id="n-protmeth" class="n"><rect x="5986" y="635" width="121" height="23"/><text x="6046.5" y="646.5">protein methylation</text></g>
<g id="n-hindbrain" class="n"><rect x="47" y="717" width="140" height="23"/><rect class="z" x="47" y="740" width="70" height="21"/><rect class="z" x="117" y="740" width="70" height="21"/><text x="117" y="728.5">hindbrain development</text><text x="82" y="750.5">Zfish</text><text x="152" y="750.5">pknox1.1</text></g>
<g id="n-camera" class="n"><rect x="318" y="711" width="110" height="36"/><rect class="m" x="318" y="747" width="55" height="21"/><rect class="m" x="373" y="747" width="55" height="21"/><text x="373" y="722.35"><tspan x="373">camera-type</tspan><tspan x="373" dy="13.3">eye development</tspan></text><text x="345.5" y="757.5">Mouse</text><text x="400.5" y="757.5">Pknox1</text></g>
<g id="n-bvm" class="n"><rect x="1279" y="721" width="98" height="37"/><text x="1328" y="732.85"><tspan x="1328">blood vessel</tspan><tspan x="1328" dy="13.3">morphogenesis</tspan></text></g>
<g id="n-lymphdiff" class="n"><rect x="2007" y="728" width="158" height="23"/><text x="2086" y="739.5">lymphocyte differentiation</text></g>
<g id="n-tcellact" class="n"><rect x="2211" y="728" width="102" height="23"/><text x="2262" y="739.5">T cell activation</text></g>
<g id="n-regrnabp" class="n"><rect x="4131" y="715" width="110" height="50"/><text x="4186" y="726.7"><tspan x="4186">regulation of</tspan><tspan x="4186" dy="13.3">RNA biosynthetic</tspan><tspan x="4186" dy="13.3">process</tspan></text></g>
<g id="n-posregrnamp" class="n"><rect x="4287" y="715" width="114" height="50"/><text x="4344" y="726.7"><tspan x="4344">positive regulation</tspan><tspan x="4344" dy="13.3">of RNA metabolic</tspan><tspan x="4344" dy="13.3">process</tspan></text></g>
<g id="n-natt" class="n"><rect x="4498" y="721" width="141" height="37"/><text x="4568.5" y="732.85"><tspan x="4568.5">nucleic acid-templated</tspan><tspan x="4568.5" dy="13.3">transcription</tspan></text></g>
<g id="n-regprotacet" class="n"><rect x="5168" y="721" width="116" height="37"/><text x="5226" y="732.85"><tspan x="5226">regulation of</tspan><tspan x="5226" dy="13.3">protein acetylation</tspan></text></g>
<g id="n-peplysacet" class="n"><rect x="5329" y="721" width="93" height="37"/><text x="5375.5" y="732.85"><tspan x="5375.5">peptidyl-lysine</tspan><tspan x="5375.5" dy="13.3">acetylation</tspan></text></g>
<g id="n-intprotaa" class="n"><rect x="5470" y="721" width="139" height="37"/><text x="5539.5" y="732.85"><tspan x="5539.5">internal protein</tspan><tspan x="5539.5" dy="13.3">amino acid acetylation</tspan></text></g>
<g id="n-reghistmod" class="n"><rect x="5707" y="721" width="127" height="37"/><text x="5770.5" y="732.85"><tspan x="5770.5">regulation of</tspan><tspan x="5770.5" dy="13.3">histone modification</tspan></text></g>
<g id="n-histmeth" class="n"><rect x="5958" y="728" width="123" height="23"/><text x="6019.5" y="739.5">histone methylation</text></g>
<g id="n-angio" class="n"><rect x="1332" y="811" width="102" height="22"/><rect class="m" x="1332" y="833" width="49" height="22"/><rect class="m" x="1381" y="833" width="53" height="22"/><text x="1383" y="822">angiogenesis</text><text x="1356.5" y="844">Mouse</text><text x="1407.5" y="844">Pknox1</text></g>
<g id="n-tcelldiff" class="n"><rect x="2112" y="811" width="124" height="22"/><rect class="m" x="2112" y="833" width="63" height="22"/><rect class="m" x="2175" y="833" width="61" height="22"/><text x="2174" y="822">T cell differentiation</text><text x="2143.5" y="844">Mouse</text><text x="2205.5" y="844">Pknox1</text></g>
<g id="n-posregrnabp" class="n"><rect x="4161" y="808" width="126" height="50"/><text x="4224" y="819.7"><tspan x="4224">positive regulation</tspan><tspan x="4224" dy="13.3">of RNA biosynthetic</tspan><tspan x="4224" dy="13.3">process</tspan></text></g>
<g id="n-regnatt" class="n"><rect x="4423" y="808" width="140" height="50"/><text x="4493" y="819.7"><tspan x="4493">regulation of</tspan><tspan x="4493" dy="13.3">nucleic acid-templated</tspan><tspan x="4493" dy="13.3">transcription</tspan></text></g>
<g id="n-dnatt" class="n"><rect x="4608" y="815" width="99" height="37"/><text x="4657.5" y="826.85"><tspan x="4657.5">DNA-templated</tspan><tspan x="4657.5" dy="13.3">transcription</tspan></text></g>
<g id="n-posregprotacet" class="n"><rect x="5053" y="815" width="131" height="37"/><text x="5118.5" y="826.85"><tspan x="5118.5">positive regulation</tspan><tspan x="5118.5" dy="13.3">of protein acetylation</tspan></text></g>
<g id="n-regpeplysacet" class="n"><rect x="5282" y="808" width="93" height="50"/><text x="5328.5" y="819.7"><tspan x="5328.5">regulation of</tspan><tspan x="5328.5" dy="13.3">peptidyl-lysine</tspan><tspan x="5328.5" dy="13.3">acetylation</tspan></text></g>
<g id="n-intpeplys" class="n"><rect x="5420" y="815" width="138" height="37"/><text x="5489" y="826.85"><tspan x="5489">internal peptidyl-lysine</tspan><tspan x="5489" dy="13.3">acetylation</tspan></text></g>
<g id="n-reghistmeth" class="n"><rect x="5931" y="804" width="124" height="36"/><rect class="z" x="5931" y="840" width="62" height="22"/><rect class="z" x="5993" y="840" width="62" height="22"/><text x="5993" y="815.35"><tspan x="5993">regulation of</tspan><tspan x="5993" dy="13.3">histone methylation</tspan></text><text x="5962" y="851">Zfish</text><text x="6024" y="851">pknox1.1</text></g>
<g id="n-posregnatt" class="n"><rect x="4306" y="902" width="154" height="50"/><text x="4383" y="913.7"><tspan x="4383">positive regulation</tspan><tspan x="4383" dy="13.3">of nucleic acid-templated</tspan><tspan x="4383" dy="13.3">transcription</tspan></text></g>
<g id="n-regdnatt" class="n"><rect x="4599" y="902" width="98" height="50"/><text x="4648" y="913.7"><tspan x="4648">regulation of</tspan><tspan x="4648" dy="13.3">DNA-templated</tspan><tspan x="4648" dy="13.3">transcription</tspan></text></g>
<g id="n-transpol2" class="n"><rect x="4743" y="902" width="125" height="50"/><text x="4805.5" y="913.7"><tspan x="4805.5">transcription</tspan><tspan x="4805.5" dy="13.3">by RNA polymerase</tspan><tspan x="4805.5" dy="13.3">II</tspan></text></g>
<g id="n-posregpeplys" class="n"><rect x="5224" y="902" width="115" height="50"/><text x="5281.5" y="913.7"><tspan x="5281.5">positive regulation</tspan><tspan x="5281.5" dy="13.3">of peptidyl-lysine</tspan><tspan x="5281.5" dy="13.3">acetylation</tspan></text></g>
<g id="n-histacet" class="n"><rect x="5657" y="915" width="117" height="23"/><text x="5715.5" y="926.5">histone acetylation</text></g>
<g id="n-negreghistmeth" class="n"><rect x="5891" y="898" width="140" height="36"/><rect class="z" x="5891" y="934" width="71" height="21"/><rect class="z" x="5962" y="934" width="69" height="21"/><text x="5961" y="909.35"><tspan x="5961">negative regulation</tspan><tspan x="5961" dy="13.3">of histone methylation</tspan></text><text x="5926.5" y="944.5">Zfish</text><text x="5996.5" y="944.5">pknox1.1</text></g>
<g id="n-posregdnatt" class="n"><rect x="4476" y="1008" width="114" height="50"/><text x="4533" y="1019.7"><tspan x="4533">positive regulation</tspan><tspan x="4533" dy="13.3">of DNA-templated</tspan><tspan x="4533" dy="13.3">transcription</tspan></text></g>
<g id="n-regtranspol2" class="n"><rect x="4638" y="991" width="126" height="63"/><rect class="m" x="4638" y="1054" width="63" height="21"/><rect class="m" x="4701" y="1054" width="63" height="21"/><text x="4701" y="1002.55"><tspan x="4701">regulation of</tspan><tspan x="4701" dy="13.3">transcription</tspan><tspan x="4701" dy="13.3">by RNA polymerase</tspan><tspan x="4701" dy="13.3">II</tspan></text><text x="4669.5" y="1064.5">Mouse</text><text x="4732.5" y="1064.5">Pknox1</text></g>
<g id="n-reghistacet" class="n"><rect x="5547" y="1015" width="118" height="36"/><text x="5606" y="1026.35"><tspan x="5606">regulation of</tspan><tspan x="5606" dy="13.3">histone acetylation</tspan></text></g>
<g id="n-posregtranspol2" class="n"><rect x="4606" y="1111" width="127" height="63"/><rect class="m" x="4606" y="1174" width="63" height="21"/><rect class="m" x="4669" y="1174" width="64" height="21"/><text x="4669.5" y="1122.55"><tspan x="4669.5">positive regulation</tspan><tspan x="4669.5" dy="13.3">of transcription</tspan><tspan x="4669.5" dy="13.3">by RNA polymerase</tspan><tspan x="4669.5" dy="13.3">II</tspan></text><text x="4637.5" y="1184.5">Mouse</text><text x="4701" y="1184.5">Pknox1</text></g>
<g id="n-posreghistacet" class="n"><rect x="5539" y="1124" width="135" height="37"/><rect class="z" x="5539" y="1161" width="67" height="21"/><rect class="z" x="5606" y="1161" width="68" height="21"/><text x="5606.5" y="1135.85"><tspan x="5606.5">positive regulation</tspan><tspan x="5606.5" dy="13.3">of histone acetylation</tspan></text><text x="5572.5" y="1171.5">Zfish</text><text x="5640" y="1171.5">pknox1.1</text></g>
</g>
</svg>
